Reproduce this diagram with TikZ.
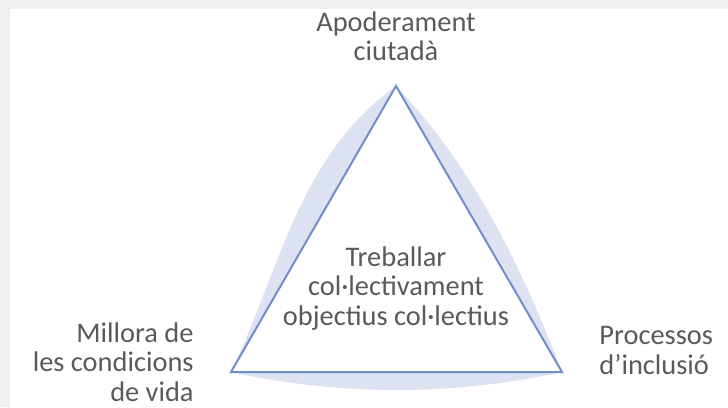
\documentclass[tikz,border=0pt]{standalone}
\usepackage{fontspec}
\setmainfont{Carlito}
\definecolor{edgeblue}{RGB}{112,142,200}
\definecolor{haze}{RGB}{221,226,243}
\definecolor{inkgrey}{RGB}{90,90,90}
\definecolor{framegrey}{RGB}{240,240,240}
\tikzset{
  corner/.style = {font=\fontsize{14.2}{14.75}\selectfont, text=inkgrey, inner sep=0pt, align=center},
  side/.style   = {draw=edgeblue, line width=1pt, fill=white, line join=miter},
  glow/.style   = {fill=haze},
  frame/.style  = {fill=framegrey}
}

\begin{document}
\begin{tikzpicture}[x=0.5pt, y=-0.5pt]
  \useasboundingbox (0,0) rectangle (728,407);
  \fill[frame] (0,0) rectangle (728,9);
  \fill[frame] (0,0) rectangle (10,407);
  \coordinate (apex) at (396,86);
  \coordinate (lft) at (231,372);
  \coordinate (rgt) at (562,372);
  \fill[glow] (apex) .. controls (298,156) and (279,273) .. (lft)
    .. controls (341,396) and (452,396) .. (rgt)
    .. controls (522,268) and (474,168) .. (apex) -- cycle;
  \draw[side] (apex) -- (lft) -- (rgt) -- cycle;
  \node[corner, anchor=base] (empower) at (396,61) {Apoderament\\ciutadà};
  \node[corner, anchor=base] (together) at (396,325) {Treballar\\col·lectivament\\objectius col·lectius};
  \node[corner, align=right, anchor=base east] (living) at (194,401) {Millora de\\les condicions\\de vida};
  \node[corner, align=left, anchor=base west] (inclusion) at (599,374) {Processos\\d’inclusió};
\end{tikzpicture}
\end{document}
